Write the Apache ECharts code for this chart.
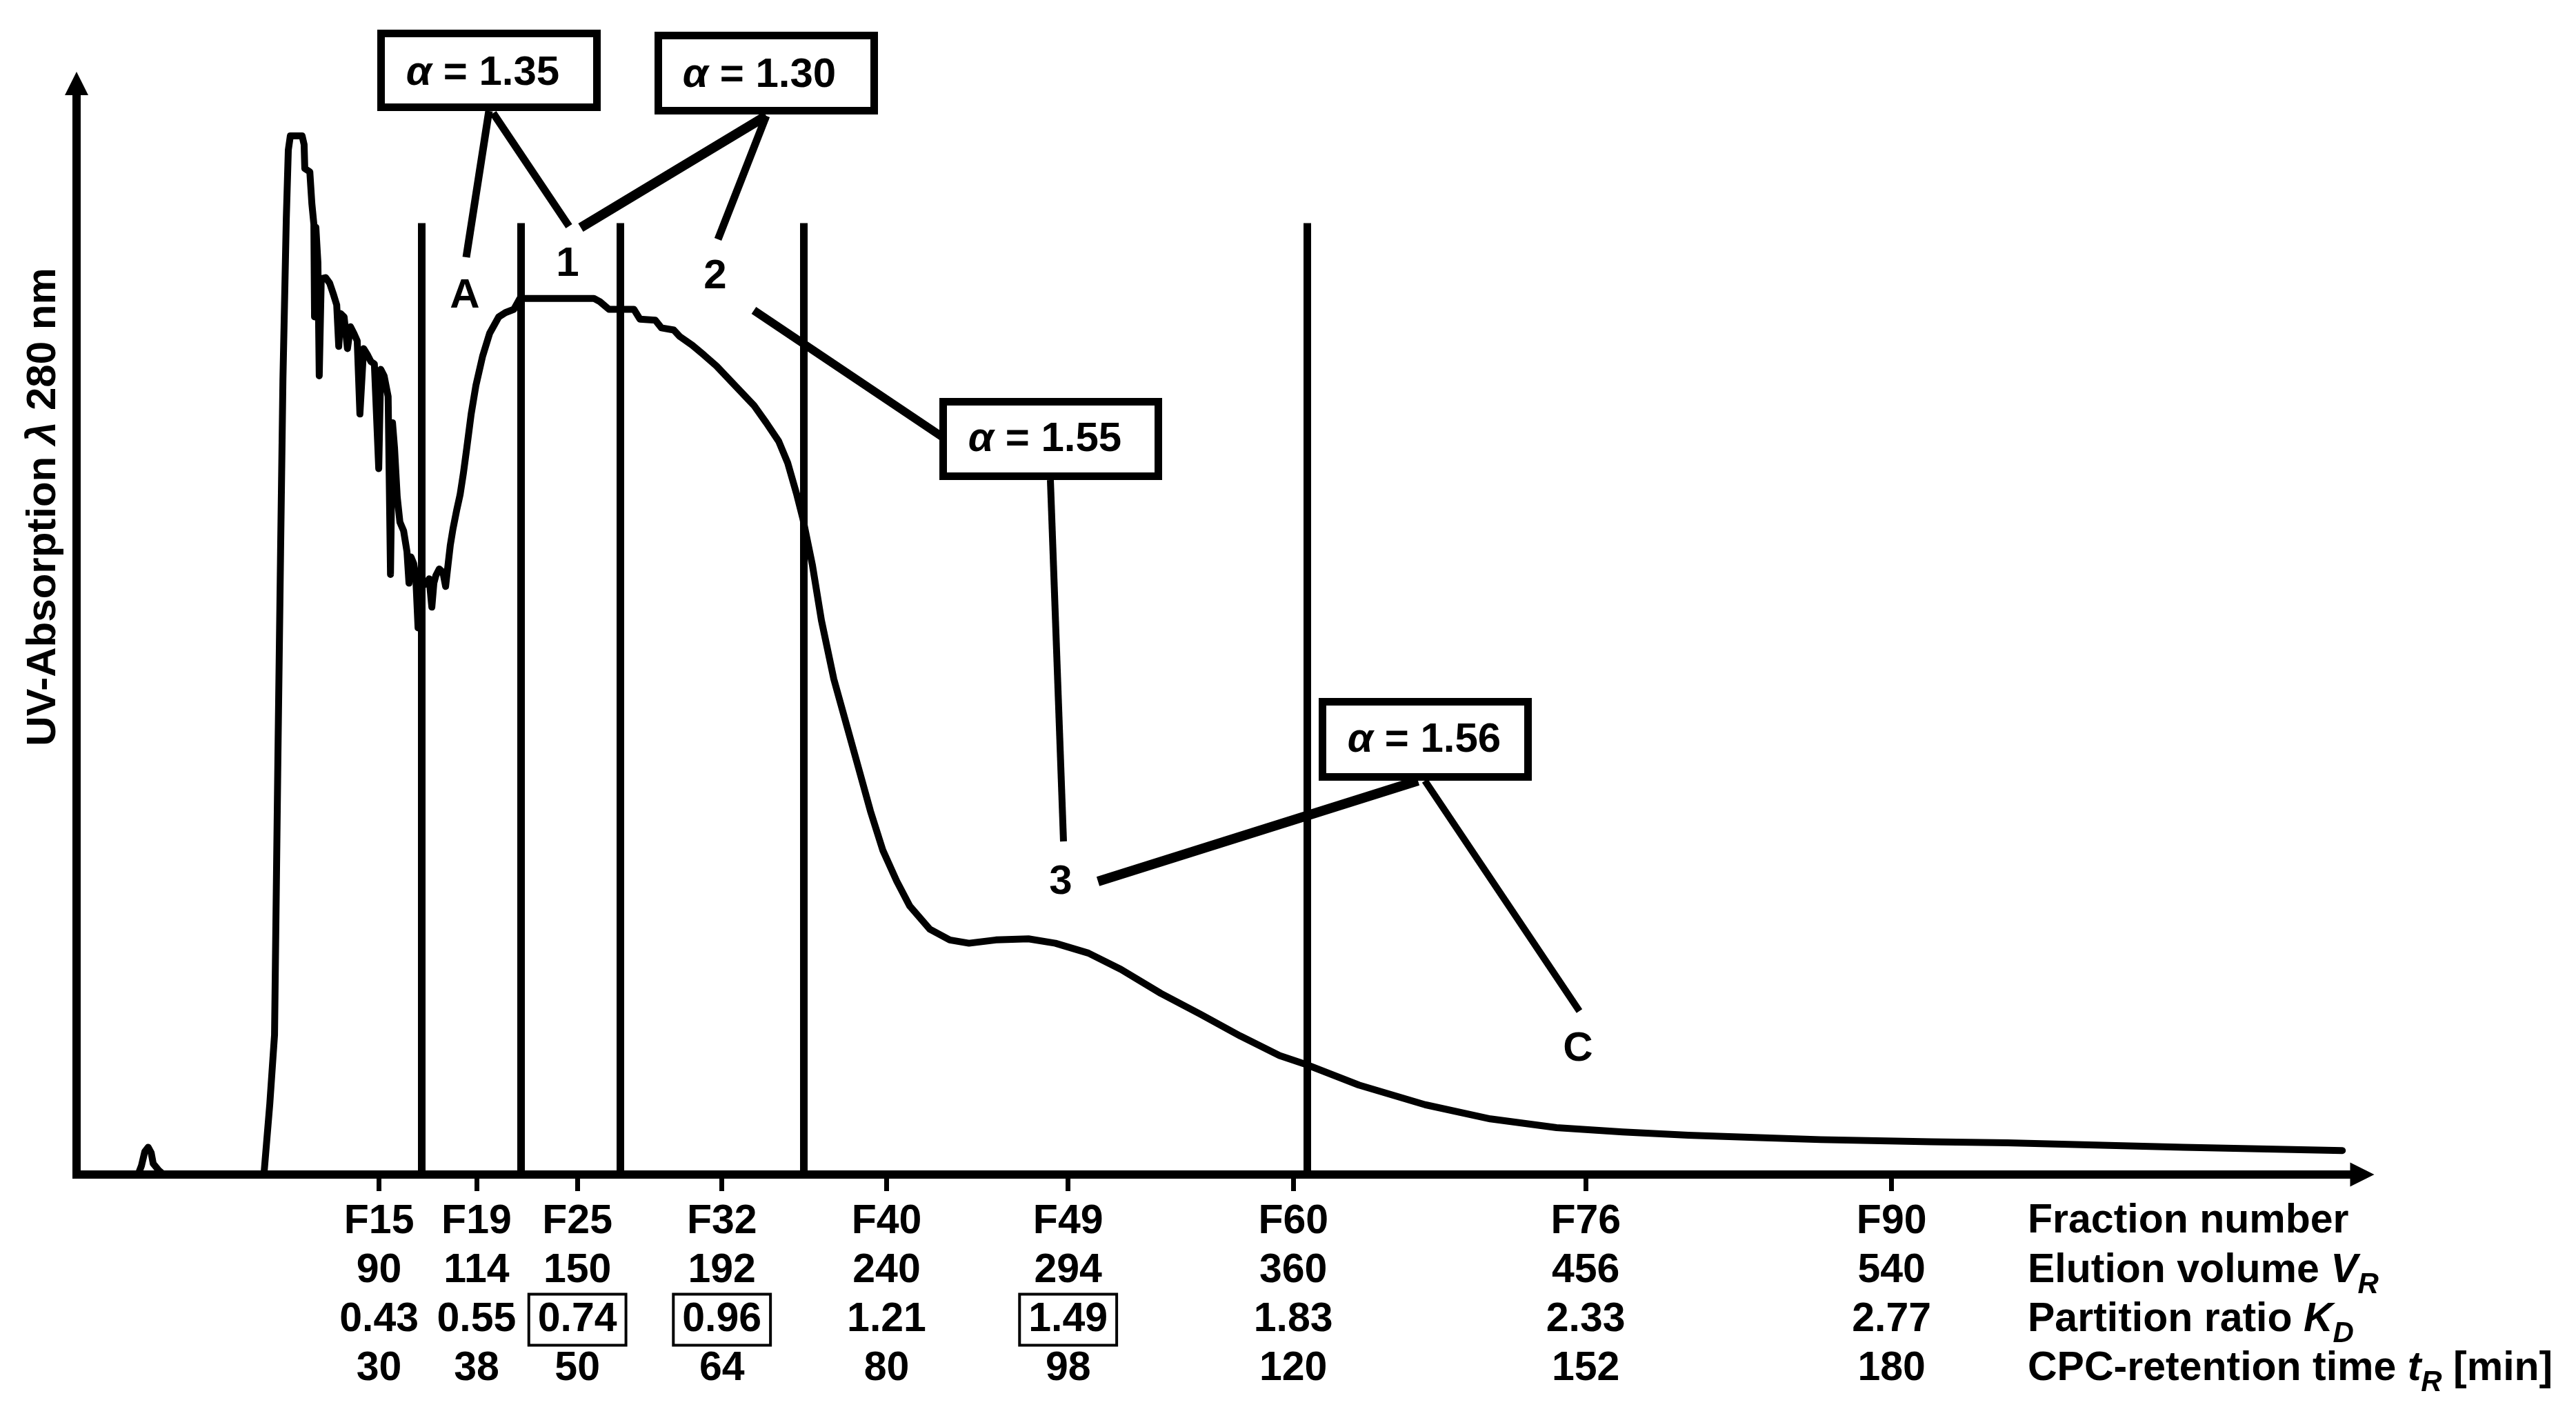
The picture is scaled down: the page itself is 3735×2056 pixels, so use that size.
<!DOCTYPE html>
<html>
<head>
<meta charset="utf-8">
<title>CPC UV trace</title>
<script src="https://cdn.jsdelivr.net/npm/echarts@6.0.0/dist/echarts.min.js"></script>
<style>
  html, body { margin: 0; padding: 0; background: #fff; }
  #chart { width: 3735px; height: 2056px; }
</style>
</head>
<body>
<div id="chart"></div>
<script>
// UV trace: [elution volume on drawn axis (mL), relative absorption 0-100]
var uvTrace = [
  [0, 0], [18.3, 0], [19.3, 0.8], [20.3, 2.1], [21.3, 2.5], [22.2, 2.0], [22.8, 1.0], [24.4, 0.4], [25.9, 0],
  [55.2, 0], [55.8, 0.2], [57.5, 6.5], [58.9, 12.8], [59.9, 38.1], [60.7, 57.1], [61.4, 72.9], [62.4, 87.6],
  [63.0, 93.9], [63.6, 95.2], [67.1, 95.2], [67.7, 94.4], [67.9, 92.2], [69.4, 91.9], [70.0, 89.0], [70.6, 87.1],
  [70.8, 78.6], [71.2, 86.8], [71.8, 83.6], [72.2, 73.2], [72.8, 82.1], [74.1, 82.2], [75.3, 81.7], [76.5, 80.6],
  [77.4, 79.7], [78.0, 75.9], [78.6, 78.9], [79.6, 78.6], [80.6, 75.7], [81.5, 77.7], [82.5, 77.1], [83.5, 76.4],
  [84.3, 69.7], [85.4, 75.7], [86.6, 75.1], [87.6, 74.5], [88.6, 74.3], [89.9, 64.7], [90.5, 73.8], [91.5, 73.2],
  [92.7, 71.3], [93.4, 55.0], [94.0, 68.9], [94.6, 66.6], [95.4, 62.1], [96.2, 59.8], [97.3, 59.0], [98.3, 57.1],
  [98.9, 54.2], [99.5, 56.6], [100.3, 56.0], [100.9, 54.9], [101.6, 50.1], [102.4, 54.2], [103.2, 54.0],
  [104.0, 54.2], [104.9, 54.6], [105.7, 52.0], [106.3, 54.2], [106.9, 54.9], [107.9, 55.5], [109.0, 55.2],
  [109.8, 53.9], [110.6, 56.1], [111.2, 57.7], [112.0, 59.2], [113.1, 60.9], [114.1, 62.3], [115.1, 64.3],
  [116.1, 66.6], [117.4, 69.7], [118.8, 72.3], [120.8, 75.0], [122.9, 77.1], [125.6, 78.6], [127.6, 79.0],
  [130.1, 79.3], [131.9, 80.3], [133.2, 80.3], [153.9, 80.3], [155.7, 80.0], [158.4, 79.3], [165.8, 79.3],
  [167.6, 78.4], [172.2, 78.3], [174.0, 77.6], [177.7, 77.4], [179.5, 76.8], [183.2, 76.0], [186.7, 75.1],
  [190.4, 74.1], [194.1, 72.9], [197.8, 71.7], [201.5, 70.5], [205.2, 68.9], [208.9, 67.2], [211.6, 65.2],
  [214.2, 62.4], [216.1, 60.1], [218.9, 55.9], [221.6, 50.8], [225.3, 45.4], [229.0, 41.3], [232.7, 37.2],
  [236.2, 33.3], [239.9, 29.7], [244.0, 26.9], [247.9, 24.6], [253.8, 22.5], [259.8, 21.5], [265.5, 21.2],
  [273.5, 21.5], [283.2, 21.6], [291.2, 21.2], [301.0, 20.3], [310.7, 18.8], [322.6, 16.6], [334.3, 14.7],
  [346.2, 12.7], [357.9, 10.9], [365.7, 10.1], [381.5, 8.2], [401.2, 6.4], [420.6, 5.1], [440.3, 4.3],
  [460.0, 3.9], [479.5, 3.6], [499.2, 3.4], [518.9, 3.2], [551.8, 3.0], [574.5, 2.9], [626.9, 2.5], [674.1, 2.2]
];

// where the picture puts each fraction tick on the drawn axis
var fractionPos = [90, 119, 149, 192, 241, 295, 362, 449, 540];
var fractionNames = ['F15', 'F19', 'F25', 'F32', 'F40', 'F49', 'F60', 'F76', 'F90'];
var elutionVolumes = ['90', '114', '150', '192', '240', '294', '360', '456', '540'];
var partitionRatios = ['0.43', '0.55', '0.74', '0.96', '1.21', '1.49', '1.83', '2.33', '2.77'];
var boxedRatios = ['0.74', '0.96', '1.49'];
var retentionTimes = ['30', '38', '50', '64', '80', '98', '120', '152', '180'];

// fraction cut lines
var cutPositions = [102.6, 132.1, 161.7, 216.3, 366.1];
var cutTop = 87.2;

var alphaValues = ['1.35', '1.30', '1.55', '1.56'];
var peakNames = ['A', '1', '2', '3', 'C'];

var FONT = 'Liberation Sans, Arial, sans-serif';

function txt(size, extra) {
  var s = { fontSize: size, fontWeight: 'bold', fontFamily: FONT, color: '#000', lineHeight: 71 };
  for (var k in extra) s[k] = extra[k];
  return s;
}

var chart = echarts.init(document.getElementById('chart'));

var cutLines = cutPositions.map(function (x) {
  return [{ coord: [x, 0] }, { coord: [x, cutTop] }];
});

// annotation boxes, leader lines and peak letters
var boxes = [
  { x: 547, y: 43, w: 324, h: 118, tx: 700, ty: 106 },
  { x: 949, y: 46, w: 324, h: 120, tx: 1101, ty: 109 },
  { x: 1362, y: 577, w: 323, h: 119, tx: 1515, ty: 637 },
  { x: 1912, y: 1012, w: 309, h: 120, tx: 2065, ty: 1073 }
];
var leaders = [
  [709, 161, 676, 373, 11], [715, 164, 825, 328, 11],
  [1111, 168, 842, 330, 14], [1111, 168, 1041, 347, 11],
  [1093, 450, 1370, 636, 12], [1523, 696, 1542, 1220, 10],
  [2056, 1132, 1592, 1278, 14], [2066, 1132, 2290, 1466, 10]
];
var peakPos = [[674, 429], [823, 383], [1037, 401], [1538, 1279], [2288, 1521]];

var graphics = [];
boxes.forEach(function (b, i) {
  graphics.push({
    type: 'rect', shape: { x: b.x + 5.5, y: b.y + 5.5, width: b.w - 11, height: b.h - 11 },
    style: { fill: '#fff', stroke: '#000', lineWidth: 11 }, z: 10
  });
  graphics.push({
    type: 'text', x: b.tx, y: b.ty, z: 11,
    style: {
      text: '{i|α} = ' + alphaValues[i],
      align: 'center', verticalAlign: 'middle', textAlign: 'center', textVerticalAlign: 'middle',
      fontSize: 60, fontWeight: 'bold', fontFamily: FONT, fill: '#000',
      rich: { i: { fontSize: 60, fontWeight: 'bold', fontStyle: 'italic', fontFamily: FONT } }
    }
  });
});
leaders.forEach(function (l) {
  graphics.push({
    type: 'line', shape: { x1: l[0], y1: l[1], x2: l[2], y2: l[3] },
    style: { stroke: '#000', lineWidth: l[4] }, z: 9
  });
});
peakNames.forEach(function (n, i) {
  graphics.push({
    type: 'text', x: peakPos[i][0], y: peakPos[i][1], z: 11,
    style: {
      text: n, align: 'center', verticalAlign: 'middle', textAlign: 'center', textVerticalAlign: 'middle',
      fontSize: 60, fontWeight: 'bold', fontFamily: FONT, fill: '#000'
    }
  });
});

// row titles at the right
var rowTitles = [
  'Fraction number',
  'Elution volume {i|V}{s|R}',
  'Partition ratio {i|K}{s|D}',
  'CPC-retention time {i|t}{s|R} [min]'
];
var rowY = [1771, 1843, 1914, 1985];
rowTitles.forEach(function (t, i) {
  graphics.push({
    type: 'text', x: 2940, y: rowY[i],
    style: {
      text: t, align: 'left', verticalAlign: 'middle', textAlign: 'left', textVerticalAlign: 'middle',
      fontSize: 59, fontWeight: 'bold', fontFamily: FONT, fill: '#000',
      rich: {
        i: { fontSize: 59, fontWeight: 'bold', fontStyle: 'italic', fontFamily: FONT },
        s: { fontSize: 42, fontWeight: 'bold', fontStyle: 'italic', fontFamily: FONT, padding: [40, 0, 0, 0] }
      }
    }
  });
});

// y axis title
graphics.push({
  type: 'text', x: 63, y: 735, rotation: Math.PI / 2,
  style: {
    text: 'UV-Absorption {i|λ} 280 nm',
    align: 'center', verticalAlign: 'middle', textAlign: 'center', textVerticalAlign: 'middle',
    fontSize: 60, fontWeight: 'bold', fontFamily: FONT, fill: '#000',
    rich: { i: { fontSize: 60, fontWeight: 'bold', fontStyle: 'italic', fontFamily: FONT } }
  }
});

var option = {
  backgroundColor: '#fff',
  animation: false,
  grid: { left: 111, right: 310, top: 121, bottom: 353, containLabel: false },
  xAxis: {
    type: 'value', min: 0, max: 680,
    splitLine: { show: false },
    axisLine: {
      show: true, symbol: ['none', 'triangle'], symbolSize: [35, 35],
      lineStyle: { color: '#000', width: 12, cap: 'square' }
    },
    axisTick: { show: true, customValues: fractionPos, length: 24, lineStyle: { color: '#000', width: 7 } },
    axisLabel: {
      show: true, customValues: fractionPos, margin: 33,
      formatter: function (v) {
        var i = fractionPos.indexOf(v);
        var kd = partitionRatios[i];
        var kdTok = boxedRatios.indexOf(kd) >= 0 ? '{kb|' + kd + '}' : '{t|' + kd + '}';
        return '{t|' + fractionNames[i] + '}\n{t|' + elutionVolumes[i] + '}\n' + kdTok + '\n{t|' + retentionTimes[i] + '}';
      },
      rich: {
        t: txt(59, {}),
        kb: txt(59, { borderColor: '#000', borderWidth: 4, padding: [8, 13, 7, 13] })
      }
    }
  },
  yAxis: {
    type: 'value', min: 0, max: 100,
    splitLine: { show: false },
    axisLine: {
      show: true, symbol: ['none', 'triangle'], symbolSize: [34, 34],
      lineStyle: { color: '#000', width: 12 }
    },
    axisTick: { show: false },
    axisLabel: { show: false }
  },
  series: [{
    type: 'line',
    data: uvTrace,
    showSymbol: false,
    symbol: 'none',
    clip: false,
    lineStyle: { color: '#000', width: 10, join: 'round', cap: 'round' },
    markLine: {
      silent: true, symbol: 'none', animation: false,
      label: { show: false },
      lineStyle: { color: '#000', width: 11, type: 'solid' },
      data: cutLines
    }
  }],
  graphic: graphics
};

chart.setOption(option);
</script>
</body>
</html>
